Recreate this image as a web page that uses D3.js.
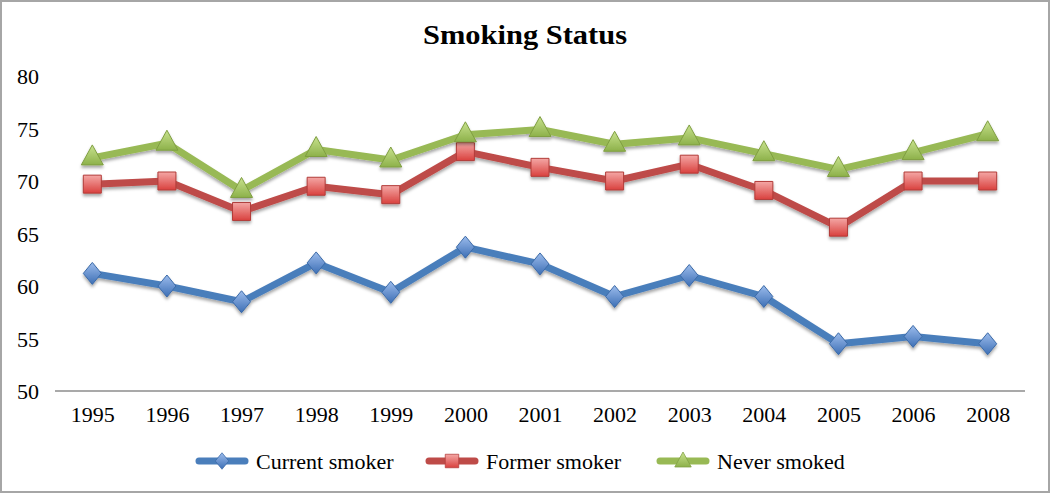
<!DOCTYPE html>
<html>
<head>
<meta charset="utf-8">
<script src="https://cdn.jsdelivr.net/npm/d3@7"></script>
<style>
  html, body { margin: 0; padding: 0; background: #fff; }
  svg text { font-family: "Liberation Serif", "DejaVu Serif", serif; fill: #000; }
</style>
</head>
<body>
<div id="chart"></div>
<script>
const years = ["1995","1996","1997","1998","1999","2000","2001","2002","2003","2004","2005","2006","2008"]
const currentSmoker = [61.2, 60.0, 58.5, 62.2, 59.4, 63.7, 62.1, 59.0, 61.0, 59.0, 54.5, 55.2, 54.5]
const formerSmoker  = [69.7, 70.0, 67.1, 69.5, 68.7, 72.8, 71.3, 70.0, 71.6, 69.1, 65.6, 70.0, 70.0]
const neverSmoked   = [72.2, 73.6, 69.1, 73.0, 72.0, 74.4, 74.9, 73.5, 74.1, 72.6, 71.1, 72.7, 74.5]
const yTicks = [50, 55, 60, 65, 70, 75, 80]
const seriesNames = ["Current smoker", "Former smoker", "Never smoked"]

const W = 1050, H = 493
const margin = {top: 76, right: 25, bottom: 102, left: 55}

const svg = d3.select('#chart').append('svg')
  .attr('width', W).attr('height', H)

// outer frame
svg.append('rect')
  .attr('x', 1).attr('y', 1).attr('width', W - 2).attr('height', H - 2)
  .attr('fill', '#fff').attr('stroke', '#a6a6a6').attr('stroke-width', 2)

const defs = svg.append('defs')
const shadow = defs.append('filter').attr('id', 'shadow')
  .attr('x', '-30%').attr('y', '-30%').attr('width', '160%').attr('height', '170%')
shadow.append('feDropShadow').attr('dx', 0).attr('dy', 2.5)
  .attr('stdDeviation', 1.6).attr('flood-color', '#000').attr('flood-opacity', 0.35)

const styles = [
  {line: '#4a7ebb', light: '#9cbcec', dark: '#3d6fb5', stroke: '#3b6aa8', shape: 'diamond'},
  {line: '#be4b48', light: '#f4a7a5', dark: '#d9413e', stroke: '#b23c39', shape: 'square'},
  {line: '#98b954', light: '#c8e28e', dark: '#8db14a', stroke: '#7f9e41', shape: 'triangle'}
]
styles.forEach((s, i) => {
  const g = defs.append('linearGradient').attr('id', 'grad' + i)
    .attr('x1', 0).attr('y1', 0).attr('x2', 0).attr('y2', 1)
  g.append('stop').attr('offset', '0%').attr('stop-color', s.light)
  g.append('stop').attr('offset', '100%').attr('stop-color', s.dark)
})

const x = d3.scalePoint().domain(years)
  .range([margin.left, W - margin.right]).padding(0.5)
const y = d3.scaleLinear().domain([50, 80])
  .range([H - margin.bottom, margin.top])

// title
svg.append('text')
  .attr('x', 525).attr('y', 44)
  .attr('text-anchor', 'middle')
  .attr('font-weight', 'bold').attr('font-size', 27)
  .attr('textLength', 204).attr('lengthAdjust', 'spacingAndGlyphs')
  .text('Smoking Status')

// y axis labels (no axis line)
const yAxis = svg.append('g')
  .attr('transform', `translate(${margin.left - 16},0)`)
  .call(d3.axisLeft(y).tickValues(yTicks).tickSize(0).tickPadding(0))
yAxis.select('.domain').remove()
yAxis.selectAll('text').attr('font-size', 22).attr('font-family', '"Liberation Serif", serif')
  .attr('fill', '#000').attr('dy', '0.35em')

// x axis
const xAxis = svg.append('g')
  .attr('transform', `translate(0,${y(50)})`)
  .call(d3.axisBottom(x).tickSize(0).tickPadding(15))
xAxis.select('.domain').remove()
xAxis.selectAll('text').attr('font-size', 22).attr('font-family', '"Liberation Serif", serif')
  .attr('fill', '#000')
svg.append('line')
  .attr('x1', margin.left).attr('x2', W - margin.right)
  .attr('y1', y(50)).attr('y2', y(50))
  .attr('stroke', '#8c8c8c').attr('stroke-width', 1.5)

function markerPath(shape) {
  if (shape === 'diamond') return 'M0,-11L9,0L0,11L-9,0Z'
  if (shape === 'square') return 'M-9,-9H9V9H-9Z'
  return 'M0,-12L11,8H-11Z'
}

const allSeries = [currentSmoker, formerSmoker, neverSmoked]
const line = d3.line().x((d, i) => x(years[i])).y(d => y(d))

allSeries.forEach((vals, si) => {
  const s = styles[si]
  const g = svg.append('g').attr('filter', 'url(#shadow)')
  g.append('path')
    .attr('d', line(vals))
    .attr('fill', 'none').attr('stroke', s.line)
    .attr('stroke-width', 7).attr('stroke-linejoin', 'round')
  g.selectAll('path.mk').data(vals).join('path')
    .attr('class', 'mk')
    .attr('transform', (d, i) => `translate(${x(years[i])},${y(d) + (s.shape === 'triangle' ? -1 : 0)})`)
    .attr('d', markerPath(s.shape))
    .attr('fill', `url(#grad${si})`).attr('stroke', s.stroke).attr('stroke-width', 1)
})

// legend
const legendX = [199, 429, 660]
const legend = svg.append('g')
seriesNames.forEach((name, i) => {
  const s = styles[i]
  const lg = legend.append('g').attr('transform', `translate(${legendX[i]},461)`)
  lg.append('line').attr('x1', 0).attr('x2', 46).attr('y1', 0).attr('y2', 0)
    .attr('stroke', s.line).attr('stroke-width', 7).attr('stroke-linecap', 'round')
  lg.append('path').attr('transform', `translate(23,0) scale(0.75)`)
    .attr('d', markerPath(s.shape))
    .attr('fill', `url(#grad${i})`).attr('stroke', s.stroke).attr('stroke-width', 1)
  lg.append('text').attr('x', 57).attr('y', 0).attr('dy', '0.35em')
    .attr('font-size', 22).text(name)
})
</script>
</body>
</html>
